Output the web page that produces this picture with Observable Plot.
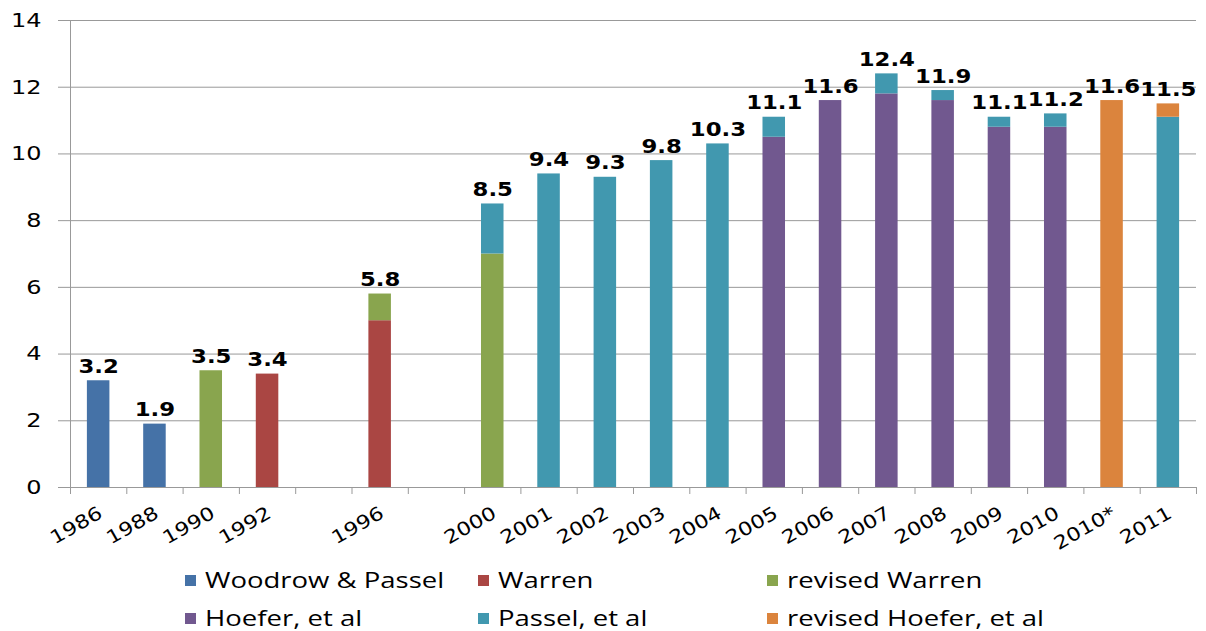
<!DOCTYPE html>
<html><head><meta charset="utf-8">
<script src="https://cdn.jsdelivr.net/npm/d3@7"></script>
<script src="https://cdn.jsdelivr.net/npm/@observablehq/plot@0.6"></script>
<style>
body{margin:0;background:#fff;}
#chart{position:relative;width:1206px;height:631px;overflow:hidden;}
#chart svg{display:block;}
.legend{position:absolute;left:0;top:0;width:1206px;font-family:"Open Sans",sans-serif;font-size:21px;color:#000;}
.item{position:absolute;display:flex;align-items:center;white-space:nowrap;height:26px;}
.sw{width:11px;height:11px;margin-right:9px;flex:none;}
.lt{display:inline-block;transform:scaleX(1.31);transform-origin:left center;}
</style></head><body><div id="chart"></div>
<script>
const categories = ["1986","1988","1990","1992","gap1","1996","gap2","2000","2001","2002","2003","2004","2005","2006","2007","2008","2009","2010","2010*","2011"];
const series = ["Woodrow & Passel","Warren","revised Warren","Hoefer, et al","Passel, et al","revised Hoefer, et al"];
const colors = ["#4572A7","#AA4643","#89A54E","#71588F","#4198AF","#DB843D"];
//                     1986 1988 1990 1992 gap 1996 gap 2000 2001 2002 2003 2004 2005 2006 2007 2008 2009 2010 2010* 2011
const woodrowPassel = [3.2, 1.9, 0,   0,   0,  0,   0,  0,   0,   0,   0,   0,   0,   0,   0,   0,   0,   0,   0,    0];
const warren        = [0,   0,   0,   3.4, 0,  5.0, 0,  0,   0,   0,   0,   0,   0,   0,   0,   0,   0,   0,   0,    0];
const revisedWarren = [0,   0,   3.5, 0,   0,  0.8, 0,  7.0, 0,   0,   0,   0,   0,   0,   0,   0,   0,   0,   0,    0];
const hoefer        = [0,   0,   0,   0,   0,  0,   0,  0,   0,   0,   0,   0,   10.5,11.6,11.8,11.6,10.8,10.8,0,    0];
const passel        = [0,   0,   0,   0,   0,  0,   0,  1.5, 9.4, 9.3, 9.8, 10.3,0.6, 0,   0.6, 0.3, 0.3, 0.4, 0,    11.1];
const revisedHoefer = [0,   0,   0,   0,   0,  0,   0,  0,   0,   0,   0,   0,   0,   0,   0,   0,   0,   0,   11.6, 0.4];
const totals        = [3.2, 1.9, 3.5, 3.4, null,5.8,null,8.5,9.4, 9.3, 9.8, 10.3,11.1,11.6,12.4,11.9,11.1,11.2,11.6, 11.5];
const yTicks = [0,2,4,6,8,10,12,14];

const values = [woodrowPassel, warren, revisedWarren, hoefer, passel, revisedHoefer];
const W = 1206, H = 545, ML = 70, MR = 10, MT = 20, MB = 58;
const step = (W - ML - MR) / categories.length;
const rows = [];
series.forEach((s, si) => categories.forEach((c, ci) => rows.push({cat: c, series: s, value: values[si][ci]})));
const labelRows = categories.map((c, i) => ({cat: c, total: totals[i]})).filter(d => d.total != null);
const xLabels = categories.filter(c => !c.startsWith("gap"));
const plotH = H - MT - MB;

const plot = Plot.plot({
  width: W, height: H, marginLeft: ML, marginRight: MR, marginTop: MT, marginBottom: MB,
  style: {fontFamily: "DejaVu Sans", fontSize: "18px", color: "#000", background: "#fff", overflow: "visible"},
  x: {domain: categories, paddingInner: 0.6, paddingOuter: 0.3, round: false, axis: null},
  y: {domain: [0, 14], axis: null},
  color: {domain: series, range: colors},
  marks: [
    Plot.ruleY(yTicks, {y: d => d, stroke: "#999", strokeOpacity: 1, insetLeft: -12}),
    Plot.ruleX([categories[0]], {x: d => d, dx: -step / 2, stroke: "#999"}),
    Plot.ruleX(categories, {x: d => d, dx: -step / 2, stroke: "#999", insetTop: plotH, insetBottom: -7}),
    Plot.ruleX([categories[categories.length - 1]], {x: d => d, dx: step / 2, stroke: "#999", insetTop: plotH, insetBottom: -7}),
    Plot.barY(rows, {x: "cat", y: "value", fill: "series"}),
    Plot.text(labelRows, {x: "cat", y: "total", text: d => d.total.toFixed(1), dy: -8, lineAnchor: "bottom", fontWeight: "bold", fontSize: 19, fill: "#000"}),
    Plot.text(yTicks, {y: d => d, frameAnchor: "left", dx: -29, textAnchor: "end", lineAnchor: "middle", fontSize: 20, fill: "#000"}),
    Plot.text(xLabels, {x: d => d, frameAnchor: "bottom", dx: 2, dy: 24, rotate: -30, textAnchor: "end", lineAnchor: "middle", fontSize: 18.5, fill: "#000"})
  ]
});

// horizontal stretch of texts about their own anchor point (reference glyphs are wide)
plot.querySelectorAll("text").forEach(t => {
  const ax = parseFloat(t.getAttribute("x")) || 0, ay = parseFloat(t.getAttribute("y")) || 0;
  const tr = t.getAttribute("transform") || "";
  t.setAttribute("transform", `${tr} translate(${ax},${ay}) scale(1.2,1) translate(${-ax},${-ay})`.trim());
});

const chart = document.getElementById("chart");
chart.appendChild(plot);

const legend = document.createElement("div");
legend.className = "legend";
const lx = [185, 478, 767], ly = [567, 605];
series.forEach((s, i) => {
  const it = document.createElement("div");
  it.className = "item";
  it.style.left = lx[i % 3] + "px";
  it.style.top = ly[Math.floor(i / 3)] + "px";
  const sw = document.createElement("span"); sw.className = "sw"; sw.style.background = colors[i];
  const tx = document.createElement("span"); tx.className = "lt"; tx.textContent = s;
  it.appendChild(sw); it.appendChild(tx);
  legend.appendChild(it);
});
chart.appendChild(legend);
</script></body></html>
